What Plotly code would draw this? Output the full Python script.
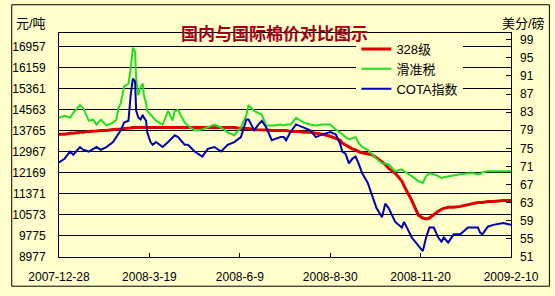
import plotly.graph_objects as go

dates = ["2007-12-28","2008-01-02","2008-01-07","2008-01-10","2008-01-16","2008-01-19","2008-01-24","2008-01-28",
"2008-01-31","2008-02-04","2008-02-09","2008-02-15","2008-02-18","2008-02-20","2008-02-22","2008-02-25","2008-02-29",
"2008-03-02","2008-03-04","2008-03-06","2008-03-07","2008-03-09","2008-03-11","2008-03-13","2008-03-14","2008-03-16",
"2008-03-17","2008-03-20","2008-03-22","2008-03-25","2008-03-31","2008-04-05","2008-04-09","2008-04-11","2008-04-14",
"2008-04-18","2008-04-20","2008-04-23","2008-04-29","2008-05-06","2008-05-11","2008-05-17","2008-05-23","2008-05-29",
"2008-06-04","2008-06-10","2008-06-15","2008-06-17","2008-06-22","2008-06-26","2008-06-29","2008-07-03","2008-07-08",
"2008-07-10","2008-07-16","2008-07-19","2008-07-21","2008-07-25","2008-07-30","2008-08-06","2008-08-12","2008-08-17",
"2008-08-23","2008-08-30","2008-09-04","2008-09-08","2008-09-10","2008-09-13","2008-09-16","2008-09-19","2008-09-22",
"2008-09-25","2008-09-28","2008-10-03","2008-10-07","2008-10-11","2008-10-16","2008-10-19","2008-10-22","2008-10-28",
"2008-11-03","2008-11-05","2008-11-12","2008-11-18","2008-11-22","2008-11-25","2008-11-28","2008-12-02","2008-12-06",
"2008-12-09","2008-12-11","2008-12-15","2008-12-20","2008-12-26","2009-01-02","2009-01-07","2009-01-11","2009-01-13",
"2009-01-15","2009-01-20","2009-01-25","2009-02-03","2009-02-10"]

grade328 = [13631,13631,13668,13668,13705,13705,13742,13742,13760,13779,13779,13816,13816,13816,13835,13853,13853,
13870,13890,13890,13890,13890,13890,13890,13890,13890,13890,13890,13890,13890,13890,13890,13890,13890,13890,
13890,13890,13890,13890,13890,13890,13890,13890,13890,13890,13853,13853,13853,13816,13816,13816,13798,13779,
13779,13779,13779,13779,13742,13742,13705,13705,13668,13631,13558,13484,13410,13299,13225,13151,13077,13040,
12967,12930,12893,12856,12745,12597,12486,12338,12154,11858,11674,11120,10565,10455,10418,10455,10602,10713,
10787,10824,10861,10861,10898,10972,11009,11046,11046,11046,11083,11083,11120,11120]

sliding = [14259,14333,14259,14444,14740,14629,14149,14186,14001,14186,13964,14075,14186,14629,14813,15442,15552,
16106,16919,16771,15737,15109,15442,15552,15109,14813,14518,14370,14259,14149,14001,14518,14149,14518,14555,
14259,14075,13964,13779,13816,13890,14001,13890,13705,13595,13890,14370,14740,14518,14444,14370,13964,13964,
13964,14001,13964,14001,14001,14259,14075,14001,13964,14001,14001,13816,13705,13631,13521,13447,13484,13521,
13299,13151,13040,12893,12708,12523,12523,12486,12228,12302,12228,12043,11858,11784,12043,12154,12117,12043,
11969,12006,12043,12080,12117,12154,12154,12117,12117,12191,12228,12228,12228,12228]

cota = [71.9,72.7,74.3,73.6,75.3,74.7,74.3,74.9,75.3,74.7,75.3,76.4,77.5,78.1,79.0,80.7,81.1,
86.7,90.4,89.8,83.3,81.8,81.4,82.4,81.8,81.1,78.6,76.4,75.8,76.4,75.3,76.4,77.5,77.9,77.5,
76.4,75.8,75.8,74.3,73.2,74.9,75.3,74.3,75.8,76.4,77.5,81.4,81.4,79.0,80.3,81.1,79.6,76.8,
77.0,77.5,77.5,76.8,78.6,80.3,79.6,79.0,77.5,78.1,78.6,78.1,76.0,74.3,73.8,71.7,72.7,73.2,
71.5,69.5,67.4,64.6,61.8,59.8,62.8,61.8,58.75,57.5,58.75,55.3,53.4,52.3,55.3,57.5,57.5,55.3,
54.4,55.3,54.2,56.0,56.0,57.5,57.5,57.5,56.4,56.0,57.7,58.1,58.5,58.1]

left_ticks = [8977,9775,10573,11371,12169,12967,13765,14563,15361,16159,16957]
right_ticks = [51,55,59,63,67,71,75,79,83,87,91,95,99]
x_tickvals = ["2007-12-28","2008-03-19","2008-06-09","2008-08-30","2008-11-20","2009-02-10"]
x_ticktext = ["2007-12-28","2008-3-19","2008-6-9","2008-8-30","2008-11-20","2009-2-10"]

BG = "#FFFFCC"
FONT = "Liberation Sans, Noto Sans CJK SC, sans-serif"

fig = go.Figure()
fig.add_trace(go.Scatter(x=dates, y=grade328, name="328级", mode="lines",
                         line=dict(color="#E00000", width=3)))
fig.add_trace(go.Scatter(x=dates, y=sliding, name="滑准税", mode="lines",
                         line=dict(color="#22DD22", width=2)))
fig.add_trace(go.Scatter(x=dates, y=cota, name="COTA指数", mode="lines", yaxis="y2",
                         line=dict(color="#0000B0", width=2)))

fig.update_layout(
    width=555, height=296,
    margin=dict(l=52, r=44, t=33, b=33),
    paper_bgcolor=BG, plot_bgcolor=BG,
    font=dict(family=FONT, size=12, color="black"),
    showlegend=True,
    legend=dict(x=(354-52)/459, y=(263-34)/230, xanchor="left", yanchor="top",
                bgcolor=BG, borderwidth=0, font=dict(size=13, family=FONT),
                tracegroupgap=0, itemwidth=30),
    xaxis=dict(type="date", range=["2007-12-28", "2009-02-10"],
               tickvals=x_tickvals, ticktext=x_ticktext,
               ticks="inside", ticklen=4, tickcolor="black",
               showline=True, linecolor="black", linewidth=1, mirror=True,
               showgrid=False, zeroline=False, ticklabelstandoff=9),
    yaxis=dict(range=[8977, 17474], tickvals=left_ticks,
               ticktext=[str(v) for v in left_ticks],
               showgrid=True, gridcolor="black", gridwidth=1,
               ticks="", showline=True, linecolor="black", linewidth=1, mirror=True,
               zeroline=False, ticklabelstandoff=10),
    yaxis2=dict(range=[51, 100.5], tickvals=right_ticks, overlaying="y", side="right",
                ticks="inside", ticklen=5, tickcolor="black", showgrid=False,
                showline=False, zeroline=False, ticklabelstandoff=8),
)

fig.add_annotation(text="<b>国内与国际棉价对比图示</b>", xref="paper", yref="paper",
                   x=(271-52)/459, y=(263-18)/230, showarrow=False,
                   font=dict(size=17, color="#A00018", family="Noto Sans CJK SC"))
fig.add_annotation(text="元/吨", xref="paper", yref="paper", x=(6-52)/459, y=(263-14)/230,
                   xanchor="left", showarrow=False, font=dict(size=13, family=FONT))
fig.add_annotation(text="美分/磅", xref="paper", yref="paper", x=(548-52)/459, y=(263-14)/230,
                   xanchor="right", showarrow=False, font=dict(size=13, family=FONT))
fig.add_shape(type="rect", xref="paper", yref="paper",
              x0=(4-52)/459, x1=(550-52)/459, y0=(263-293)/230, y1=(263-4)/230,
              line=dict(color="black", width=1), layer="below")

fig.write_html("out.html")
